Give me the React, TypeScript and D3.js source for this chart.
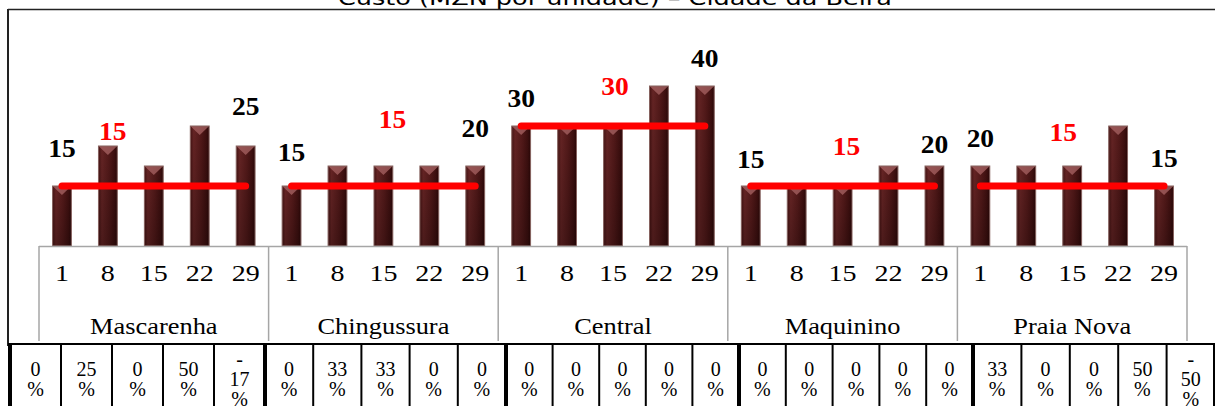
import * as React from "react";
import * as d3 from "d3";

const title = "Custo (MZN por unidade) – Cidade da Beira";
const groups = ["Mascarenha", "Chingussura", "Central", "Maquinino", "Praia Nova"];
const days = ["1", "8", "15", "22", "29"];

// cost per unit, MZN, one value per day
const mascarenha = [15, 25, 20, 30, 25];
const chingussura = [15, 20, 20, 20, 20];
const central = [30, 30, 30, 40, 40];
const maquinino = [15, 15, 15, 20, 20];
const praiaNova = [20, 20, 20, 30, 15];

// red reference line per market
const reference = [15, 15, 30, 15, 15];

// % change row under the chart
const changeMascarenha = [0, 25, 0, 50, -17];
const changeChingussura = [0, 33, 33, 0, 0];
const changeCentral = [0, 0, 0, 0, 0];
const changeMaquinino = [0, 0, 0, 0, 0];
const changePraiaNova = [33, 0, 0, 50, -50];

// labels were dragged by hand in the original, px nudges
const firstLift = [-29, -25, -19, -18, -19];
const lastLift = [-31, -29, -19, -13, -19];
const refDx = [-41, 9, 2, 4, -9];
const refLift = [-46, -58, -31, -31, -45];

const W = 1215;
const H = 406;
const SERIF = "'Liberation Serif', 'Times New Roman', Times, serif";

const CostChart: React.FunctionComponent = () => {
  const ref = React.useRef<SVGSVGElement>(null);

  React.useEffect(() => {
    const costs = [mascarenha, chingussura, central, maquinino, praiaNova];
    const changes = [changeMascarenha, changeChingussura, changeCentral, changeMaquinino, changePraiaNova];
    const flat = costs.flat();
    const n = flat.length;

    const svg = d3.select(ref.current);
    svg.selectAll("*").remove();

    const plot = { left: 39, right: 1187, base: 246 };
    const x = d3
      .scaleBand<number>()
      .domain(d3.range(n))
      .range([plot.left, plot.right])
      .paddingInner(0.59)
      .paddingOuter(0.295);
    const cx = (i: number) => (x(i) as number) + x.bandwidth() / 2;
    const y = d3.scaleLinear().domain([0, 60]).range([plot.base, 6]);
    const groupX = d3.scaleLinear().domain([0, groups.length]).range([plot.left, plot.right]);
    const tableX = d3
      .scaleLinear()
      .domain([0, 5, 10, 15, 20, 25])
      .range([10, 265, 506, 739, 973, 1215]);

    const defs = svg.append("defs");
    const grad = defs.append("linearGradient").attr("id", "barBody");
    [
      ["0%", "#441313"],
      ["18%", "#652424"],
      ["55%", "#521919"],
      ["85%", "#3d0f0f"],
      ["100%", "#2a0707"]
    ].forEach(([o, c]) => grad.append("stop").attr("offset", o).attr("stop-color", c));
    const shade = defs
      .append("linearGradient")
      .attr("id", "barShade")
      .attr("x1", 0)
      .attr("x2", 0)
      .attr("y1", 0)
      .attr("y2", 1);
    shade.append("stop").attr("offset", "0%").attr("stop-color", "#000").attr("stop-opacity", 0);
    shade.append("stop").attr("offset", "100%").attr("stop-color", "#000").attr("stop-opacity", 0.25);

    // title, cut off at the top like the source
    svg
      .append("text")
      .attr("x", 338)
      .attr("y", 5)
      .attr("textLength", 554)
      .attr("lengthAdjust", "spacingAndGlyphs")
      .attr("font-family", "'DejaVu Sans', sans-serif")
      .attr("font-size", 20)
      .attr("fill", "#000")
      .text(title);

    // frame
    svg.append("line").attr("x1", 8).attr("x2", W).attr("y1", 9.5).attr("y2", 9.5).attr("stroke", "#222").attr("stroke-width", 1.5);
    svg.append("line").attr("x1", 8).attr("x2", 8).attr("y1", 9).attr("y2", 346).attr("stroke", "#222").attr("stroke-width", 2);

    // bars
    const bars = svg.append("g");
    const bw = x.bandwidth();
    flat.forEach((v, i) => {
      const x0 = x(i) as number;
      const top = y(v);
      const g = bars.append("g");
      g.append("rect").attr("x", x0).attr("y", top).attr("width", bw).attr("height", plot.base - top).attr("fill", "url(#barBody)");
      g.append("rect").attr("x", x0).attr("y", top).attr("width", bw).attr("height", plot.base - top).attr("fill", "url(#barShade)");
      g.append("polygon")
        .attr("points", `${x0},${top} ${x0 + bw},${top} ${x0 + bw / 2},${top + 9}`)
        .attr("fill", "#a86464")
        .attr("opacity", 0.75);
      g.append("rect")
        .attr("x", x0)
        .attr("y", top)
        .attr("width", bw)
        .attr("height", plot.base - top)
        .attr("fill", "none")
        .attr("stroke", "#86625f")
        .attr("stroke-width", 1);
    });

    // axis box
    const axis = svg.append("g").attr("stroke", "#a6a6a6").attr("stroke-width", 1.5);
    axis.append("line").attr("x1", plot.left).attr("x2", plot.right).attr("y1", plot.base + 0.5).attr("y2", plot.base + 0.5);
    d3.range(groups.length + 1).forEach(k =>
      axis
        .append("line")
        .attr("x1", groupX(k))
        .attr("x2", groupX(k))
        .attr("y1", plot.base)
        .attr("y2", 341)
    );

    flat.forEach((_, i) => {
      svg
        .append("text")
        .attr("transform", `translate(${cx(i)},281) scale(1.22,1)`)
        .attr("text-anchor", "middle")
        .attr("font-family", SERIF)
        .attr("font-size", 23)
        .text(days[i % days.length]);
    });
    groups.forEach((name, k) => {
      svg
        .append("text")
        .attr("transform", `translate(${(groupX(k) + groupX(k + 1)) / 2},334) scale(1.1,1)`)
        .attr("text-anchor", "middle")
        .attr("font-family", SERIF)
        .attr("font-size", 24)
        .text(name);
    });

    // reference lines and labels
    const line = d3
      .line<number>()
      .x(d => cx(d))
      .y(() => 0);
    groups.forEach((_, k) => {
      const first = k * days.length;
      const last = first + days.length - 1;
      const yr = y(reference[k]);
      svg
        .append("path")
        .attr("d", line([first, last]))
        .attr("transform", `translate(0,${yr})`)
        .attr("stroke", "#ff0000")
        .attr("stroke-width", 7)
        .attr("stroke-linecap", "round")
        .attr("fill", "none");

      const label = (px: number, py: number, txt: string, color: string) =>
        svg
          .append("text")
          .attr("transform", `translate(${px},${py}) scale(1.1,1)`)
          .attr("text-anchor", "middle")
          .attr("font-family", SERIF)
          .attr("font-weight", "bold")
          .attr("font-size", 25)
          .attr("fill", color)
          .text(txt);

      label(cx(first), y(flat[first]) + firstLift[k], String(flat[first]), "#000");
      label(cx(last), y(flat[last]) + lastLift[k], String(flat[last]), "#000");
      label(cx(first + 2) + refDx[k], yr + refLift[k], String(reference[k]), "#ff0000");
    });

    // change table
    const table = svg.append("g");
    table.append("line").attr("x1", 8).attr("x2", W).attr("y1", 344).attr("y2", 344).attr("stroke", "#000").attr("stroke-width", 2);
    d3.range(n + 1).forEach(i => {
      const thick = i % days.length === 0;
      table
        .append("line")
        .attr("x1", tableX(i))
        .attr("x2", tableX(i))
        .attr("y1", 344)
        .attr("y2", H)
        .attr("stroke", "#000")
        .attr("stroke-width", thick ? 4 : 2);
    });
    changes.flat().forEach((v, i) => {
      const lines = v < 0 ? ["-", String(-v), "%"] : [String(v), "%"];
      const mid = (tableX(i) + tableX(i + 1)) / 2;
      const t = table
        .append("text")
        .attr("text-anchor", "middle")
        .attr("font-family", SERIF)
        .attr("font-size", 20);
      lines.forEach((s, j) =>
        t
          .append("tspan")
          .attr("x", mid)
          .attr("y", 386 - ((lines.length - 1) * 20) / 2 + j * 20)
          .text(s)
      );
    });
  }, []);

  return (
    <svg
      ref={ref}
      width={W}
      height={H}
      style={{ position: "absolute", left: 0, top: 0, background: "#fff" }}
    />
  );
};

export default function App() {
  return <CostChart />;
}
